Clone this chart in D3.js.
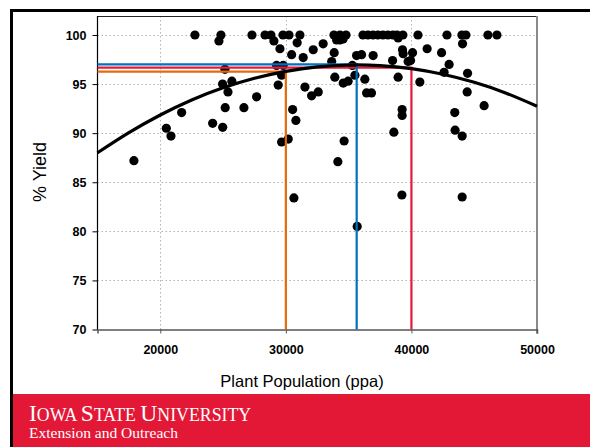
<!DOCTYPE html>
<html>
<head>
<meta charset="utf-8">
<script src="https://cdn.jsdelivr.net/npm/d3@7"></script>
<style>
  html, body { margin: 0; padding: 0; background: #fff; }
  svg { display: block; }
</style>
</head>
<body>
<svg id="chart" width="590" height="447"></svg>
<script>
// ---- Data ----
const popAt100 = [22760, 24830, 27300, 28340, 28810, 29770, 30250, 31120, 33830, 34310, 34790,
  36140, 36540, 36940, 37330, 37730, 38130, 38530, 38850, 39320, 40520, 42830, 44020, 44340, 46090, 46810];

const pointPop = [24670, 17900, 20480, 20850, 21700, 24170, 24970, 25150, 24960, 25700, 25390, 25170,
  26660, 27670, 29050, 29530, 30900, 30460, 31380, 32180, 32970, 33850, 34040, 34560, 29260, 29790,
  29660, 29390, 31520, 32580, 32050, 33650, 33900, 34570, 34960, 35500, 35630, 36030, 36950, 36290,
  36430, 36820, 30540, 30800, 30640, 29660, 30190, 34640, 34140, 35680, 38500, 38940, 38940, 38600,
  39290, 39340, 40090, 41250, 42400, 39740, 39930, 43000, 42600, 44470, 44070, 40670, 44440, 45790,
  43450, 39260, 39260, 43480, 44040, 39240, 44040, 35300, 34310];
const pointYield = [99.4, 87.2, 90.5, 89.7, 92.1, 91.0, 90.6, 96.5, 95.0, 95.3, 94.2, 92.6,
  92.6, 93.7, 99.4, 98.6, 99.2, 98.0, 97.7, 98.5, 99.1, 98.2, 99.5, 99.6, 96.9, 96.9,
  95.9, 94.9, 94.7, 94.2, 93.8, 97.3, 95.7, 95.1, 95.3, 95.9, 97.9, 98.0, 97.9, 95.5,
  94.1, 94.1, 92.4, 91.3, 83.4, 89.1, 89.4, 89.2, 87.1, 80.5, 97.4, 99.7, 95.7, 90.1,
  98.5, 98.1, 98.2, 98.6, 98.2, 97.3, 97.4, 97.0, 96.2, 96.1, 99.1, 95.2, 94.2, 92.8,
  92.1, 92.4, 91.8, 90.3, 89.7, 83.7, 83.5, 96.9, 99.5];

// Fitted response curve
const curvePop = [15000, 17500, 20000, 22500, 25000, 27500, 30000, 32500, 35000, 37500, 40000, 42500, 45000, 47500, 50000];
const curveYield = [88.0, 90.05, 91.85, 93.38, 94.62, 95.59, 96.30, 96.75, 96.94, 96.88, 96.57, 96.00, 95.18, 94.10, 92.75];

// Reference lines: population, yield, colour
const refPop = [30000, 40000, 35640];
const refYield = [96.27, 96.67, 97.0];
const refColor = ["#E36C0A", "#E31B3D", "#0070C0"];

const xTicks = [20000, 30000, 40000, 50000];
const yTicks = [70, 75, 80, 85, 90, 95, 100];
const xTitle = "Plant Population (ppa)";
const yTitle = "% Yield";

// ---- Drawing ----
const svg = d3.select("#chart");
const x = d3.scaleLinear().domain([15000, 50000]).range([97.5, 537]);
const y = d3.scaleLinear().domain([70, 100]).range([329.5, 35]);
const plotTop = 16;

// outer frame
svg.append("line").attr("x1", 10).attr("x2", 590).attr("y1", 10.5).attr("y2", 10.5)
  .attr("stroke", "#000").attr("stroke-width", 3);
svg.append("line").attr("x1", 11.5).attr("x2", 11.5).attr("y1", 9).attr("y2", 447)
  .attr("stroke", "#000").attr("stroke-width", 3);

// gridlines
const grid = svg.append("g").attr("stroke", "#b4b4b4").attr("stroke-width", 1).attr("stroke-dasharray", "1.5,2.5");
grid.selectAll(".h").data(yTicks.filter(d => d > 70)).enter().append("line")
  .attr("x1", x(15000)).attr("x2", x(50000))
  .attr("y1", d => Math.round(y(d)) + 0.5).attr("y2", d => Math.round(y(d)) + 0.5);
grid.selectAll(".v").data(xTicks.filter(d => d < 50000)).enter().append("line")
  .attr("x1", d => Math.round(x(d)) + 0.5).attr("x2", d => Math.round(x(d)) + 0.5)
  .attr("y1", plotTop).attr("y2", y(70));

// plot frame: top black, right gray
svg.append("line").attr("x1", x(15000)).attr("x2", x(50000)).attr("y1", plotTop + 0.5).attr("y2", plotTop + 0.5)
  .attr("stroke", "#222").attr("stroke-width", 1);
svg.append("line").attr("x1", x(50000)).attr("x2", x(50000)).attr("y1", plotTop).attr("y2", y(70) + 4)
  .attr("stroke", "#8a8a8a").attr("stroke-width", 2);

// axes
const xAxis = svg.append("g").attr("transform", `translate(0,${y(70)})`)
  .call(d3.axisBottom(x).tickValues(xTicks).tickSize(4).tickPadding(12).tickFormat(d3.format("d")));
xAxis.select(".domain").attr("stroke", "#555").attr("stroke-width", 1.5);
xAxis.selectAll(".tick line").attr("stroke", "#555");
xAxis.selectAll("text").attr("font-family", "Liberation Sans, Arial, sans-serif")
  .attr("font-size", 12.5).attr("font-weight", "bold").attr("fill", "#000");

const yAxis = svg.append("g").attr("transform", `translate(${x(15000)},0)`)
  .call(d3.axisLeft(y).tickValues(yTicks).tickSize(5).tickPadding(6).tickFormat(d3.format("d")));
yAxis.select(".domain").attr("stroke", "#000").attr("stroke-width", 1.2)
  .attr("d", `M0,${plotTop}V${y(70)}`);
yAxis.selectAll(".tick line").attr("stroke", "#000");
yAxis.selectAll("text").attr("font-family", "Liberation Sans, Arial, sans-serif")
  .attr("font-size", 12.5).attr("font-weight", "bold").attr("fill", "#000");

// axis titles
svg.append("text").attr("x", 302).attr("y", 387).attr("text-anchor", "middle")
  .attr("font-family", "Liberation Sans, Arial, sans-serif").attr("font-size", 16.5).text(xTitle);
svg.append("text").attr("transform", "translate(46,172) rotate(-90)").attr("text-anchor", "middle")
  .attr("font-family", "Liberation Sans, Arial, sans-serif").attr("font-size", 18).text(yTitle);

// points
const pts = popAt100.map(p => [p, 100]).concat(pointPop.map((p, i) => [p, pointYield[i]]));
svg.append("g").selectAll("circle").data(pts).enter().append("circle")
  .attr("cx", d => x(d[0])).attr("cy", d => y(d[1])).attr("r", 4.6).attr("fill", "#000");

// reference lines
refPop.forEach((p, i) => {
  const path = d3.path();
  path.moveTo(x(15000), y(refYield[i]));
  path.lineTo(x(p), y(refYield[i]));
  path.lineTo(x(p), y(70));
  svg.append("path").attr("d", path.toString()).attr("fill", "none")
    .attr("stroke", refColor[i]).attr("stroke-width", 2.2);
});

// curve
const line = d3.line().x(d => x(d[0])).y(d => y(d[1])).curve(d3.curveNatural);
svg.append("path").datum(curvePop.map((p, i) => [p, curveYield[i]]))
  .attr("d", line).attr("fill", "none").attr("stroke", "#000").attr("stroke-width", 3.2);

// footer
svg.append("rect").attr("x", 13).attr("y", 394).attr("width", 577).attr("height", 53).attr("fill", "#E31837");
const logo = svg.append("text").attr("x", 29).attr("y", 421)
  .attr("font-family", "Liberation Serif, Times New Roman, serif").attr("fill", "#fff");
[["I", 23.5], ["OWA ", 17.8], ["S", 23.5], ["TATE ", 17.8], ["U", 23.5], ["NIVERSITY", 17.8]].forEach(([t, s]) => {
  logo.append("tspan").attr("font-size", s).text(t);
});
svg.append("text").attr("x", 29).attr("y", 438)
  .attr("font-family", "Liberation Serif, Times New Roman, serif").attr("font-size", 15.5)
  .attr("fill", "#fff").text("Extension and Outreach");
</script>
</body>
</html>
